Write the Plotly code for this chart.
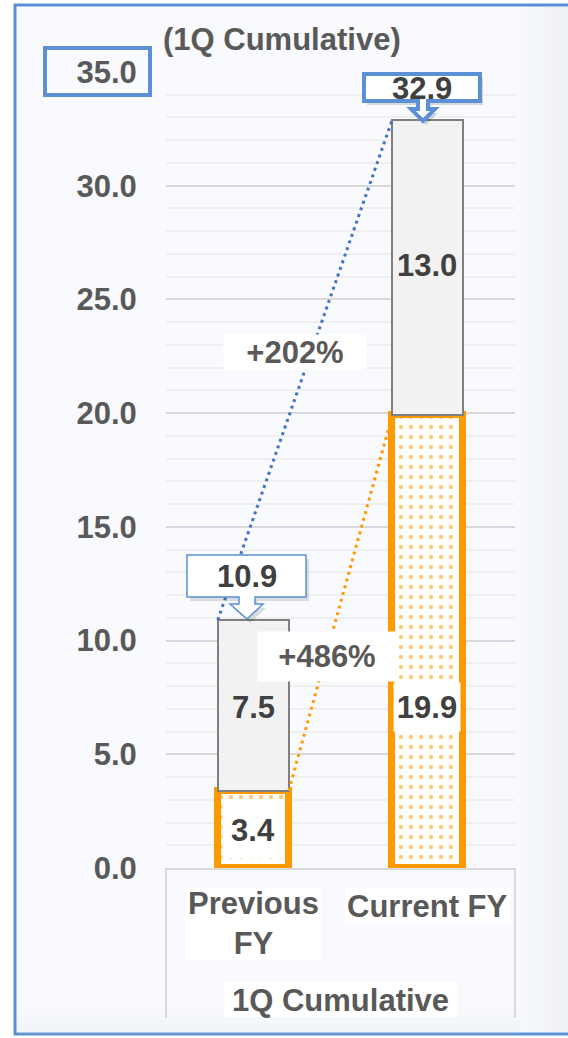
import plotly.graph_objects as go

# ---------------- data ----------------
categories = ["Previous<br>FY", "Current FY"]
group_label = "1Q Cumulative"
title_text = "(1Q Cumulative)"
orange_vals = [3.4, 19.9]     # lower (hatched) segment
gray_vals = [7.5, 13.0]       # upper segment
totals = [10.9, 32.9]
growth_total = "+202%"
growth_orange = "+486%"
y_ticks = [0, 5, 10, 15, 20, 25, 30, 35]

# ---------------- layout constants ----------------
W, H = 568, 1038
PL, PR, PT, PB = 166, 515, 72, 868
YMAX = 35.0
BAR_W = 0.407
FONT = "Liberation Sans"
BLUE = "#5B8FD6"
ORANGE = "#FF9900"
TXT = "#595959"
VTXT = "#404040"


def fx(p):
    return (p - PL) / (PR - PL)


def fy(p):
    return (PB - p) / (PB - PT)


def path(points):
    s = "M " + " L ".join(f"{fx(x):.5f},{fy(y):.5f}" for x, y in points) + " Z"
    return s


xs = list(range(len(categories)))

fig = go.Figure()

fig.add_trace(go.Bar(
    x=xs, y=orange_vals, width=BAR_W,
    marker=dict(color="white",
                line=dict(color=ORANGE, width=7),
                pattern=dict(shape=".", fgcolor=ORANGE, bgcolor="white",
                             size=10, solidity=0.16, fillmode="overlay")),
    hoverinfo="skip", showlegend=False))
fig.add_trace(go.Bar(
    x=xs, y=gray_vals, width=BAR_W,
    marker=dict(color="#F2F2F2", line=dict(color="#7F7F7F", width=2)),
    hoverinfo="skip", showlegend=False))

# connecting dotted lines
fig.add_trace(go.Scatter(
    x=[xs[0] - BAR_W / 2, xs[1] - BAR_W / 2], y=[totals[0], totals[1]],
    mode="lines", line=dict(color="#4472C4", width=3, dash="3px,4px"),
    hoverinfo="skip", showlegend=False))
fig.add_trace(go.Scatter(
    x=[xs[0] + BAR_W / 2, xs[1] - BAR_W / 2], y=[orange_vals[0], orange_vals[1]],
    mode="lines", line=dict(color=ORANGE, width=3, dash="3px,4px"),
    hoverinfo="skip", showlegend=False))

shapes = []
# frame background + border
shapes.append(dict(type="rect", xref="paper", yref="paper", layer="below",
                   x0=fx(15), x1=fx(620), y0=fy(1034), y1=fy(5),
                   fillcolor="#F8FAFD", line=dict(color=BLUE, width=3)))
# right bevel gradient
for i in range(16):
    x0 = 520 + i * 3
    shapes.append(dict(type="rect", xref="paper", yref="paper", layer="below",
                       x0=fx(x0), x1=fx(x0 + 3), y0=fy(1032), y1=fy(7),
                       fillcolor=f"rgba(200,206,214,{0.02 + i * 0.012:.3f})",
                       line=dict(width=0)))
# bottom bevel gradient
for i in range(8):
    y0 = 1010 + i * 3
    shapes.append(dict(type="rect", xref="paper", yref="paper", layer="below",
                       x0=fx(17), x1=fx(520), y0=fy(y0 + 3), y1=fy(y0),
                       fillcolor=f"rgba(200,206,214,{0.02 + i * 0.015:.3f})",
                       line=dict(width=0)))
# category dividers
for xp in (PL, PR):
    shapes.append(dict(type="line", xref="paper", yref="paper", layer="below",
                       x0=fx(xp), x1=fx(xp), y0=fy(868), y1=fy(1018),
                       line=dict(color="#D9D9D9", width=2)))
# white backgrounds behind category labels
for (x0, x1, y0, y1) in [(185, 321, 888, 960), (345, 510, 888, 923), (224, 457, 982, 1017)]:
    shapes.append(dict(type="rect", xref="paper", yref="paper", layer="below",
                       x0=fx(x0), x1=fx(x1), y0=fy(y1), y1=fy(y0),
                       fillcolor="white", line=dict(width=0)))
# box around top tick label
shapes.append(dict(type="rect", xref="paper", yref="paper", layer="above",
                   x0=fx(45), x1=fx(150), y0=fy(95), y1=fy(48),
                   line=dict(color=BLUE, width=4)))

# callout for previous total
c1 = [(187, 555), (306, 555), (306, 597), (255, 597), (255, 604), (263, 604),
      (247, 619), (230, 604), (239, 604), (239, 597), (187, 597)]
shapes.append(dict(type="path", xref="paper", yref="paper", layer="above",
                   path=path([(x + 3, y + 4) for x, y in c1]),
                   fillcolor="rgba(0,0,0,0.12)", line=dict(width=0)))
shapes.append(dict(type="path", xref="paper", yref="paper", layer="above",
                   path=path(c1), fillcolor="white", line=dict(color=BLUE, width=1.5)))
# callout for current total
c2 = [(364, 74), (480, 74), (480, 101), (428, 101), (428, 109), (435, 109),
      (423, 121), (411, 109), (418, 109), (418, 101), (364, 101)]
shapes.append(dict(type="path", xref="paper", yref="paper", layer="above",
                   path=path([(x + 3, y + 4) for x, y in c2]),
                   fillcolor="rgba(0,0,0,0.14)", line=dict(width=0)))
shapes.append(dict(type="path", xref="paper", yref="paper", layer="above",
                   path=path(c2), fillcolor="white", line=dict(color=BLUE, width=4)))

annotations = []


def ann(text, x, y, size=31, color=TXT, xanchor="center", bg=None, w=None, h=None):
    d = dict(text=f"<b>{text}</b>", xref="paper", yref="paper", x=fx(x), y=fy(y),
             xanchor=xanchor, yanchor="middle", showarrow=False,
             font=dict(family=FONT, size=size, color=color))
    if bg:
        d.update(bgcolor=bg)
    if w:
        d.update(width=w)
    if h:
        d.update(height=h)
    annotations.append(d)


ann(title_text, 161, 39, xanchor="left")
# category labels
ann(categories[0], 253, 923)
ann(categories[1], 427, 906)
ann(group_label, 340, 1000)
# value labels
ann(f"{orange_vals[0]:.1f}", 253, 830, color=VTXT, bg="white", w=58, h=54)
ann(f"{gray_vals[0]:.1f}", 253, 707, color=VTXT)
ann(f"{orange_vals[1]:.1f}", 427, 707, color=VTXT, bg="white", w=64, h=46)
ann(f"{gray_vals[1]:.1f}", 427, 265, color=VTXT)
ann(f"{totals[0]:.1f}", 246.5, 576, color=VTXT)
ann(f"{totals[1]:.1f}", 422, 89, color=VTXT)
ann(growth_total, 295, 352, bg="white", w=140, h=32)
ann(growth_orange, 327, 656, bg="white", w=136, h=47)

fig.update_layout(
    width=W, height=H,
    margin=dict(l=PL, r=W - PR, t=PT, b=H - PB, pad=0),
    paper_bgcolor="white", plot_bgcolor="rgba(0,0,0,0)",
    barmode="stack", bargap=0,
    showlegend=False,
    shapes=shapes, annotations=annotations,
    xaxis=dict(range=[-0.5, 1.5], showticklabels=False, showgrid=False,
               zeroline=False, showline=True, linecolor="#D9D9D9", linewidth=2,
               fixedrange=True),
    yaxis=dict(range=[0, YMAX], tickvals=y_ticks,
               ticktext=[f"<b>{v:.1f}</b>" for v in y_ticks],
               tickfont=dict(family=FONT, size=31, color=TXT),
               ticks="outside", ticklen=0, tickcolor="rgba(0,0,0,0)",
               ticklabelstandoff=22,
               showgrid=True, gridcolor="#D9D9D9", gridwidth=2,
               minor=dict(dtick=1, showgrid=True, gridcolor="#EFEFEF", gridwidth=2),
               zeroline=False, showline=False, fixedrange=True),
)

fig.write_html("out.html")
